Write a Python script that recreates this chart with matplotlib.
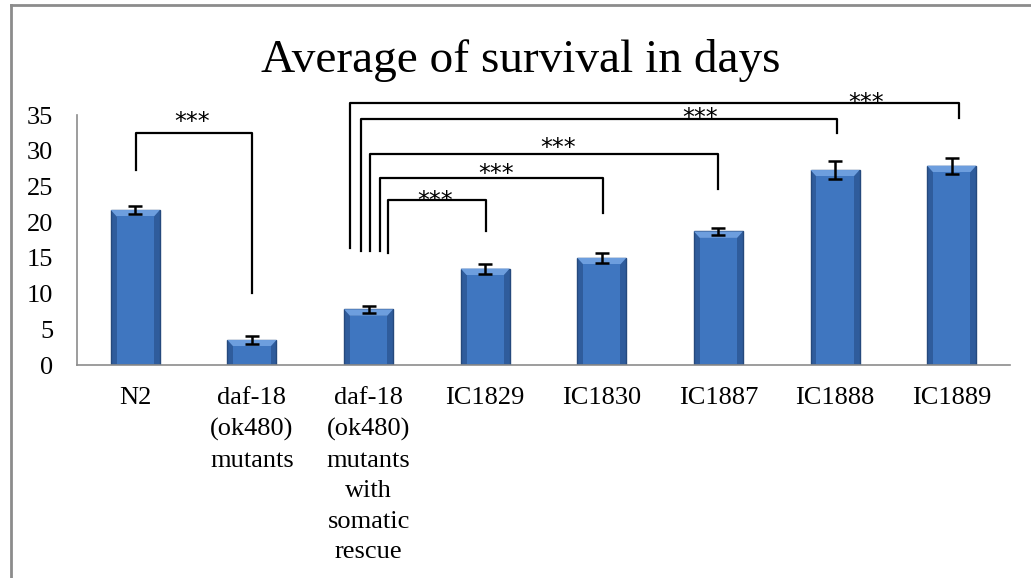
import matplotlib.pyplot as plt
from matplotlib.lines import Line2D

# data
strains = ["N2", "daf-18\n(ok480)\nmutants",
           "daf-18\n(ok480)\nmutants\nwith\nsomatic\nrescue",
           "IC1829", "IC1830", "IC1887", "IC1888", "IC1889"]
survival = [21.7, 3.5, 7.8, 13.5, 15.0, 18.7, 27.3, 27.9]
sem = [0.5, 0.5, 0.5, 0.7, 0.7, 0.5, 1.2, 1.1]

# significance brackets: left x, right x, top, left bottom, right bottom, star x, star y
br_left = [0.006, 2.167, 2.10, 2.015, 1.935, 1.84]
br_right = [1.0, 3.01, 4.01, 4.996, 6.02, 7.06]
br_top = [32.5, 23.1, 26.2, 29.6, 34.4, 36.7]
br_lbot = [27.3, 15.7, 16.0, 16.0, 16.0, 16.4]
br_rbot = [10.1, 18.8, 21.3, 24.6, 32.5, 34.6]
star_x = [0.486, 2.57, 3.09, 3.625, 4.84, 6.27]
star_y = [33.1, 22.0, 25.8, 29.4, 33.6, 35.7]

plt.rcParams["font.family"] = ["Liberation Serif", "DejaVu Serif"]
fig = plt.figure(figsize=(10.31, 5.78), dpi=100)
ax = fig.add_axes([0.0747, 0.3685, 0.9049, 0.4325])

x = list(range(len(strains)))
w = 0.42
ax.bar(x, survival, width=w, color="#2f5c9c", edgecolor="#25497d", linewidth=1.0, zorder=2)
# bevelled face of each bar
for xi, v in zip(x, survival):
    ax.fill([xi - w/2, xi + w/2, xi + w/2 - 0.05, xi - w/2 + 0.05],
            [v, v, v - 0.9, v - 0.9], color="#6d9ede", lw=0, zorder=3)
    ax.fill([xi - w/2 + 0.05, xi + w/2 - 0.05, xi + w/2 - 0.05, xi - w/2 + 0.05],
            [v - 0.9, v - 0.9, 0.15, 0.15], color="#3F76C0", lw=0, zorder=3)
ax.errorbar(x, survival, yerr=sem, fmt="none", ecolor="black", elinewidth=1.8,
            capsize=5, capthick=1.8, zorder=4)

for l, r, t, lb, rb, sx, sy in zip(br_left, br_right, br_top, br_lbot, br_rbot, star_x, star_y):
    ax.plot([l, l, r, r], [lb, t, t, rb], color="black", lw=1.6, clip_on=False, zorder=5)
    ax.text(sx, sy, "***", ha="center", va="baseline", fontsize=17,
            family="DejaVu Sans")

ax.set_xlim(-0.5, 7.5)
ax.set_ylim(0, 35)
ax.set_yticks(range(0, 36, 5))
ax.set_xticks(x)
ax.set_xticklabels(strains, linespacing=1.5)
ax.tick_params(axis="both", length=0, labelsize=19)
ax.tick_params(axis="y", pad=17)
ax.tick_params(axis="x", pad=16)
for s in ["top", "right"]:
    ax.spines[s].set_visible(False)
for s in ["left", "bottom"]:
    ax.spines[s].set_color("#8c8c8c")
    ax.spines[s].set_linewidth(1.2)

fig.text(0.505, 0.895, "Average of survival in days", ha="center", va="center", fontsize=34)

# outer chart frame (partly visible)
fig.add_artist(Line2D([10.5/1031, 10.5/1031], [0, 1 - 5/578], transform=fig.transFigure,
                      color="#8c8c8c", lw=2))
fig.add_artist(Line2D([10.5/1031, 1], [1 - 5/578, 1 - 5/578], transform=fig.transFigure,
                      color="#8c8c8c", lw=2))

fig.savefig("out.png", dpi=100)
